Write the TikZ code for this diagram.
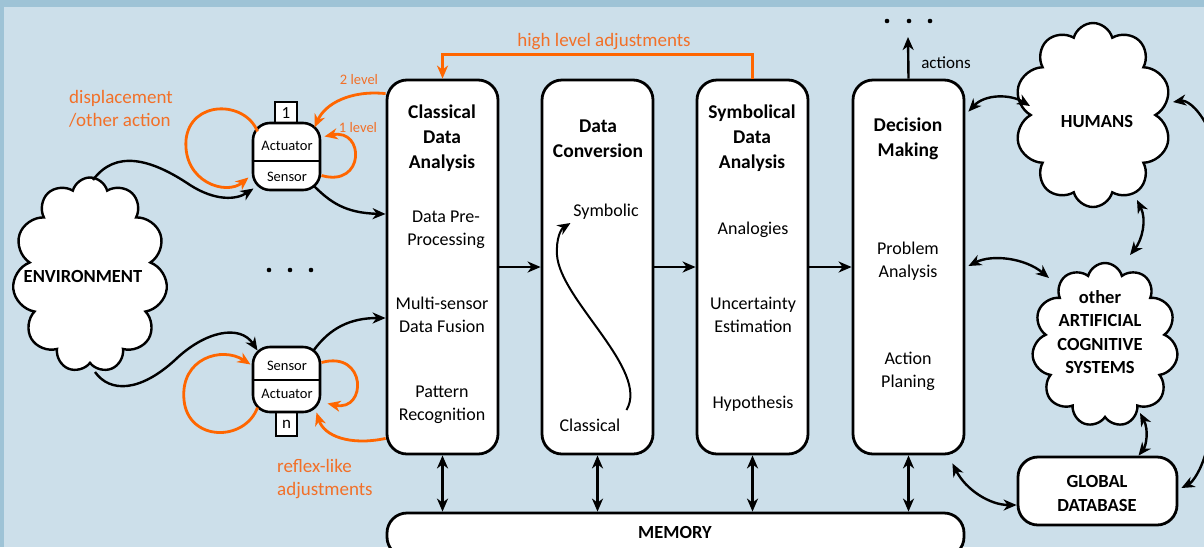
\documentclass[tikz,border=0pt]{standalone}
\usepackage{fontspec}
\setmainfont{Carlito}
\usetikzlibrary{shapes.symbols,arrows.meta,calc}
\definecolor{bg}{RGB}{204,223,234}
\definecolor{bgdark}{RGB}{158,195,214}
\definecolor{orng}{RGB}{255,102,0}
\definecolor{orngtxt}{RGB}{242,112,40}
\tikzset{
  blk/.style={draw=black, fill=white, line width=2.8pt, rounded corners=20pt, inner sep=0pt},
  unitbox/.style={draw=black, fill=white, line width=2.6pt, rounded corners=17pt, inner sep=0pt},
  sqbox/.style={draw=black, fill=white, line width=2.4pt, inner sep=0pt, font=\fontsize{17}{17}\selectfont},
  ttl/.style={font=\fontsize{19.5}{25}\selectfont\bfseries, align=center, inner sep=0pt},
  bdy/.style={font=\fontsize{18}{23}\selectfont, align=center, inner sep=0pt},
  utxt/.style={font=\fontsize{14.5}{16}\selectfont, inner sep=0pt},
  btxt/.style={font=\fontsize{18.5}{23.5}\selectfont\bfseries, align=center, inner sep=0pt},
  tip/.style={-{Stealth[length=13pt,width=11pt,inset=4pt]}},
  dtip/.style={{Stealth[length=13pt,width=11pt,inset=4pt]}-{Stealth[length=13pt,width=11pt,inset=4pt]}},
  con/.style={draw=black, line width=2.4pt},
  orl/.style={draw=orng, line width=2.8pt},
  otip/.style={-{Stealth[length=13pt,width=11pt,inset=4pt]}},
  otxt/.style={text=orngtxt, font=\fontsize{19}{23}\selectfont, inner sep=0pt},
  osmall/.style={text=orngtxt, font=\fontsize{14.5}{16}\selectfont, inner sep=0pt},
  cld/.style={cloud, cloud ignores aspect, draw=black, fill=white, line width=2.4pt},
}
\begin{document}
\begin{tikzpicture}[x=1pt,y=-1pt]
\clip (0,0) rectangle (1204,547);
\fill[bg] (0,0) rectangle (1204,547);
\fill[bgdark] (0,0) rectangle (1204,7);
\fill[bgdark] (0,0) rectangle (4,547);

% main boxes
\node[blk, minimum width=111pt, minimum height=374pt] (ca) at (442.5,267) {};
\node[blk, minimum width=111pt, minimum height=374pt] (dc) at (597.5,267) {};
\node[blk, minimum width=111pt, minimum height=374pt] (sd) at (752.5,267) {};
\node[blk, minimum width=111pt, minimum height=374pt] (dm) at (908.5,267) {};
\node[blk, minimum width=577pt, minimum height=44pt] (mem) at (675.5,535) {};

% clouds
\node[cld, cloud puffs=11, minimum width=155pt, minimum height=195pt] (env) at (90,275) {};
\node[cld, cloud puffs=10, minimum width=157pt, minimum height=184pt] (hum) at (1093,115) {};
\node[cld, cloud puffs=11, minimum width=146pt, minimum height=164pt] (acs) at (1105,345) {};
\node[blk, minimum width=159pt, minimum height=68pt] (gd) at (1097.5,491) {};

% sensor units
\node[sqbox, minimum width=22pt, minimum height=23pt] (sq1) at (286,113.5) {1};
\node[unitbox, minimum width=67pt, minimum height=67pt] (su1) at (286.5,156.5) {};
\draw[line width=2.4pt] (su1.west |- 0,161) -- (su1.east |- 0,161);
\node[sqbox, minimum width=21pt, minimum height=24pt] (sqn) at (286.5,424) {n};
\node[unitbox, minimum width=67pt, minimum height=65pt] (su2) at (286.5,379.5) {};
\draw[line width=2.4pt] (su2.west |- 0,380) -- (su2.east |- 0,380);
\node[utxt] (a1) at (287,146) {Actuator};
\node[utxt] (s1) at (287,177) {Sensor};
\node[utxt] (s2) at (287,366) {Sensor};
\node[utxt] (a2) at (287,394) {Actuator};

% texts in boxes
\node[ttl] (cat) at (442,138) {Classical\\Data\\Analysis};
\node[bdy] (cab1) at (446,229.5) {Data Pre-\\Processing};
\node[bdy] (cab2) at (442,314.5) {Multi-sensor\\Data Fusion};
\node[bdy] (cab3) at (442,404.5) {Pattern\\Recognition};
\node[ttl] (dct) at (598,138.5) {Data\\Conversion};
\node[bdy] (dcs) at (606,212) {Symbolic};
\node[bdy] (dcc) at (590,425) {Classical};
\node[ttl] (sdt) at (752,138) {Symbolical\\Data\\Analysis};
\node[bdy] (sdb1) at (753,230) {Analogies};
\node[bdy] (sdb2) at (753,314.5) {Uncertainty\\Estimation};
\node[bdy] (sdb3) at (753,404) {Hypothesis};
\node[ttl] (dmt) at (908,138.5) {Decision\\Making};
\node[bdy] (dmb1) at (908,261) {Problem\\Analysis};
\node[bdy] (dmb2) at (908,371) {Action\\Planing};
\node[btxt] (memt) at (675,532) {MEMORY};
\node[btxt] (envt) at (83,276) {ENVIRONMENT};
\node[btxt] (humt) at (1097,121) {HUMANS};
\node[btxt] (acst) at (1100,332) {other\\ARTIFICIAL\\COGNITIVE\\SYSTEMS};
\node[btxt, font=\fontsize{18.5}{24}\selectfont\bfseries] (gdt) at (1097,493) {GLOBAL\\DATABASE};

% orange labels
\node[otxt, anchor=west, align=left] (disp) at (69,108.5) {displacement\\/other action};
\node[osmall] (l2) at (359,80) {2 level};
\node[osmall] (l1) at (358,128) {1 level};
\node[otxt, anchor=west, align=left] (refl) at (277,479.5) {reflex-like\\adjustments};
\node[otxt] (hla) at (604,42) {high level adjustments};
\node[font=\fontsize{17}{17}\selectfont, inner sep=0pt] (act) at (946,63) {actions};

% dots
\foreach \xx in {887,909,930} \fill (\xx,21) circle (2.3);
\foreach \xx in {269,290,311} \fill (\xx,270) circle (2.3);

% pipeline arrows
\draw[con, tip] (ca.east) -- (dc.west);
\draw[con, tip] (dc.east) -- (sd.west);
\draw[con, tip] (sd.east) -- (dm.west);
\foreach \b in {ca,dc,sd,dm} \draw[con, dtip] (\b.south) -- (\b.south |- mem.north);

% actions
\coordinate (actend) at (908,37);
\draw[con, tip] (dm.north) -- (actend);

% high level adjustments
\draw[orl, otip] (sd.north) -- ++(0,-24) -| (ca.north);

% data conversion curve
\draw[line width=2pt, tip] ($(dc)+(29,143)$) .. controls (650,370) and (560,300) .. (557,255) .. controls (556,238) and (561,229) .. ($(dc)+(-27,-44)$);

% left black connectors
\draw[con, tip] ($(env)+(3,-95)$) .. controls (115,150) and (150,158) .. (190,185) .. controls (215,201) and (236,200) .. ($(su1)+(-33,32)$);
\draw[con, tip] ($(su1)+(27,29)$) .. controls (330,202) and (345,213) .. ($(ca.west)+(0,-53)$);
\draw[con, tip] ($(env)+(5,97)$) .. controls (110,393) and (140,392) .. (175,360) .. controls (205,331) and (240,324) .. ($(su2)+(-29,-29)$);
\draw[con, tip] ($(su2)+(27,-29)$) .. controls (330,328) and (350,318) .. ($(ca.west)+(0,51)$);

% orange loops
\draw[orl, otip] ($(su1)+(-29,-25)$) .. controls (245,100) and (190,100) .. (186,140) .. controls (183,182) and (226,196) .. ($(su1)+(-38,21)$);
\draw[orl, otip] ($(su1)+(35,19)$) .. controls (365,188) and (365,128) .. ($(su1)+(38,-20)$);
\draw[orl, otip] ($(ca.north west)+(0,15)$) .. controls (350,90) and (325,104) .. ($(su1)+(28,-29)$);
\draw[orl, otip] ($(su2)+(-29,28)$) .. controls (245,442) and (188,442) .. (184,400) .. controls (180,358) and (222,346) .. ($(su2)+(-36,-15)$);
\draw[orl, otip] ($(su2)+(35,-17)$) .. controls (367,350) and (367,412) .. ($(su2)+(41,24)$);
\draw[orl, otip] ($(ca.south west)+(0,-17)$) .. controls (350,446) and (324,436) .. ($(su2)+(30,33)$);

% right connectors
\draw[con, dtip] ($(dm.north east)+(3,33)$) .. controls (985,94) and (1010,94) .. ($(hum)+(-63,-9)$);
\draw[con, dtip] ($(dm.east)+(3,-1)$) .. controls (992,254) and (1025,258) .. ($(acs)+(-56,-67)$);
\draw[con, dtip] ($(hum)+(44,85)$) .. controls (1147,220) and (1142,240) .. ($(acs)+(25,-90)$);
\draw[con, dtip] ($(acs)+(35,68)$) .. controls (1149,430) and (1146,446) .. ($(gd.north)+(41,0)$);
\draw[con, dtip] ($(dm.south east)+(-13,8)$) .. controls (966,490) and (990,505) .. ($(gd.west)+(0,14)$);
\coordinate (e1) at (1206,124);
\coordinate (e2) at (1206,452);
\draw[con, tip] (e1) .. controls (1196,106) and (1186,100) .. ($(hum)+(80,-13)$);
\draw[con, tip] (e2) .. controls (1201,470) and (1193,482) .. ($(gd.east)+(3,-3)$);
\end{tikzpicture}
\end{document}
